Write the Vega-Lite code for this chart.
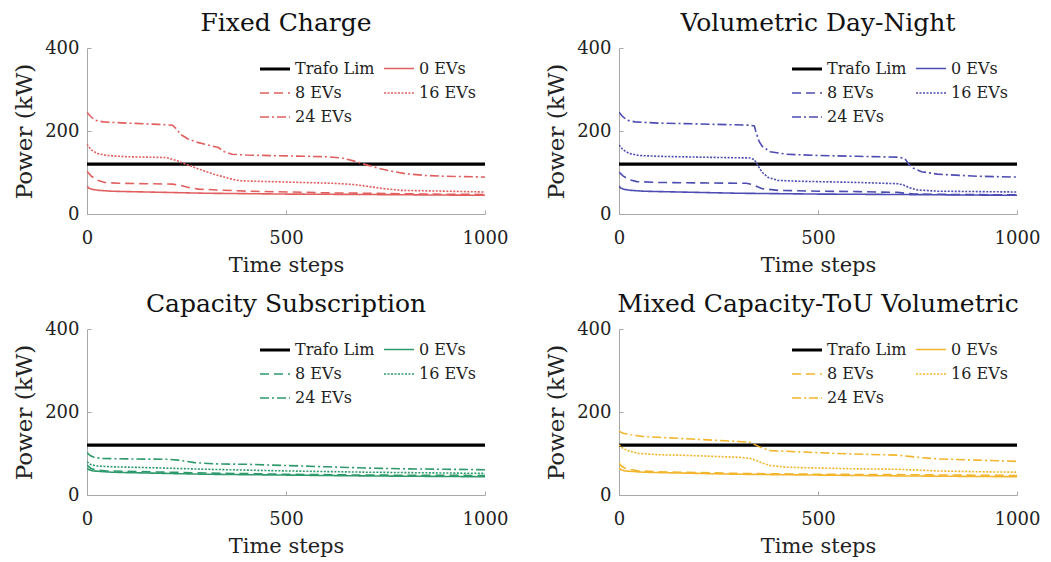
{
  "$schema": "https://vega.github.io/schema/vega-lite/v6.json",
  "padding": {"left": 13, "top": 11, "right": 5, "bottom": 5},
  "background": "white",
  "spacing": {"row": 17, "column": 37},
  "config": {
    "font": "DejaVu Serif",
    "view": {"stroke": null},
    "axis": {
      "grid": false,
      "domainColor": "#a8a8a8",
      "tickColor": "#a8a8a8",
      "tickSize": -4,
      "labelFont": "DejaVu Serif",
      "labelFontSize": 18,
      "labelColor": "#222222",
      "labelFlush": false,
      "format": "d",
      "titleFont": "DejaVu Serif",
      "titleFontSize": 21,
      "titleFontWeight": "normal",
      "titleColor": "#222222"
    },
    "axisX": {"labelPadding": 19, "titlePadding": 7},
    "axisY": {"labelPadding": 12, "titlePadding": 8, "titleFontSize": 23},
    "title": {"font": "DejaVu Serif", "fontSize": 25, "fontWeight": "normal", "color": "#111111", "anchor": "middle", "frame": "group", "offset": 3},
    "legend": {
      "orient": "none",
      "direction": "horizontal",
      "legendX": 171,
      "legendY": 4,
      "columns": 2,
      "symbolType": "stroke",
      "symbolSize": 900,
      "labelFont": "DejaVu Serif",
      "labelFontSize": 16,
      "labelColor": "#222222",
      "labelOffset": 3,
      "columnPadding": 5,
      "rowPadding": -8,
      "padding": 0
    }
  },
  "datasets": {
    "fc": [
      {"series": "Trafo Lim", "t": 0, "p": 120}, {"series": "Trafo Lim", "t": 1000, "p": 120},
      {"series": "0 EVs", "t": 0, "p": 67}, {"series": "0 EVs", "t": 5, "p": 62}, {"series": "0 EVs", "t": 15, "p": 59}, {"series": "0 EVs", "t": 30, "p": 57}, {"series": "0 EVs", "t": 60, "p": 55}, {"series": "0 EVs", "t": 100, "p": 54}, {"series": "0 EVs", "t": 200, "p": 52}, {"series": "0 EVs", "t": 300, "p": 50}, {"series": "0 EVs", "t": 400, "p": 49}, {"series": "0 EVs", "t": 500, "p": 48}, {"series": "0 EVs", "t": 700, "p": 47}, {"series": "0 EVs", "t": 850, "p": 46}, {"series": "0 EVs", "t": 1000, "p": 45},
      {"series": "8 EVs", "t": 0, "p": 103}, {"series": "8 EVs", "t": 10, "p": 92}, {"series": "8 EVs", "t": 25, "p": 82}, {"series": "8 EVs", "t": 45, "p": 76}, {"series": "8 EVs", "t": 80, "p": 74}, {"series": "8 EVs", "t": 150, "p": 73}, {"series": "8 EVs", "t": 215, "p": 72}, {"series": "8 EVs", "t": 235, "p": 69}, {"series": "8 EVs", "t": 255, "p": 64}, {"series": "8 EVs", "t": 280, "p": 60}, {"series": "8 EVs", "t": 325, "p": 58}, {"series": "8 EVs", "t": 400, "p": 55}, {"series": "8 EVs", "t": 510, "p": 53}, {"series": "8 EVs", "t": 600, "p": 51}, {"series": "8 EVs", "t": 700, "p": 50}, {"series": "8 EVs", "t": 850, "p": 48}, {"series": "8 EVs", "t": 1000, "p": 47},
      {"series": "16 EVs", "t": 0, "p": 168}, {"series": "16 EVs", "t": 10, "p": 155}, {"series": "16 EVs", "t": 25, "p": 146}, {"series": "16 EVs", "t": 50, "p": 141}, {"series": "16 EVs", "t": 100, "p": 138}, {"series": "16 EVs", "t": 200, "p": 136}, {"series": "16 EVs", "t": 230, "p": 127}, {"series": "16 EVs", "t": 251, "p": 119}, {"series": "16 EVs", "t": 285, "p": 107}, {"series": "16 EVs", "t": 318, "p": 96}, {"series": "16 EVs", "t": 368, "p": 83}, {"series": "16 EVs", "t": 385, "p": 80}, {"series": "16 EVs", "t": 500, "p": 77}, {"series": "16 EVs", "t": 620, "p": 74}, {"series": "16 EVs", "t": 670, "p": 71}, {"series": "16 EVs", "t": 703, "p": 67}, {"series": "16 EVs", "t": 745, "p": 61}, {"series": "16 EVs", "t": 790, "p": 57}, {"series": "16 EVs", "t": 900, "p": 55}, {"series": "16 EVs", "t": 1000, "p": 53},
      {"series": "24 EVs", "t": 0, "p": 245}, {"series": "24 EVs", "t": 8, "p": 236}, {"series": "24 EVs", "t": 20, "p": 226}, {"series": "24 EVs", "t": 40, "p": 222}, {"series": "24 EVs", "t": 100, "p": 219}, {"series": "24 EVs", "t": 180, "p": 216}, {"series": "24 EVs", "t": 215, "p": 214}, {"series": "24 EVs", "t": 225, "p": 205}, {"series": "24 EVs", "t": 235, "p": 192}, {"series": "24 EVs", "t": 255, "p": 180}, {"series": "24 EVs", "t": 280, "p": 172}, {"series": "24 EVs", "t": 310, "p": 165}, {"series": "24 EVs", "t": 330, "p": 160}, {"series": "24 EVs", "t": 345, "p": 150}, {"series": "24 EVs", "t": 365, "p": 144}, {"series": "24 EVs", "t": 400, "p": 142}, {"series": "24 EVs", "t": 500, "p": 140}, {"series": "24 EVs", "t": 600, "p": 138}, {"series": "24 EVs", "t": 640, "p": 135}, {"series": "24 EVs", "t": 670, "p": 128}, {"series": "24 EVs", "t": 700, "p": 119}, {"series": "24 EVs", "t": 730, "p": 111}, {"series": "24 EVs", "t": 760, "p": 104}, {"series": "24 EVs", "t": 800, "p": 97}, {"series": "24 EVs", "t": 850, "p": 93}, {"series": "24 EVs", "t": 900, "p": 91}, {"series": "24 EVs", "t": 1000, "p": 89}
    ],
    "vdn": [
      {"series": "Trafo Lim", "t": 0, "p": 120}, {"series": "Trafo Lim", "t": 1000, "p": 120},
      {"series": "0 EVs", "t": 0, "p": 67}, {"series": "0 EVs", "t": 5, "p": 62}, {"series": "0 EVs", "t": 15, "p": 59}, {"series": "0 EVs", "t": 30, "p": 57}, {"series": "0 EVs", "t": 60, "p": 55}, {"series": "0 EVs", "t": 100, "p": 54}, {"series": "0 EVs", "t": 200, "p": 52}, {"series": "0 EVs", "t": 300, "p": 50}, {"series": "0 EVs", "t": 400, "p": 49}, {"series": "0 EVs", "t": 500, "p": 48}, {"series": "0 EVs", "t": 700, "p": 47}, {"series": "0 EVs", "t": 850, "p": 46}, {"series": "0 EVs", "t": 1000, "p": 45},
      {"series": "8 EVs", "t": 0, "p": 101}, {"series": "8 EVs", "t": 10, "p": 92}, {"series": "8 EVs", "t": 25, "p": 83}, {"series": "8 EVs", "t": 45, "p": 78}, {"series": "8 EVs", "t": 100, "p": 76}, {"series": "8 EVs", "t": 200, "p": 75}, {"series": "8 EVs", "t": 320, "p": 74}, {"series": "8 EVs", "t": 335, "p": 71}, {"series": "8 EVs", "t": 345, "p": 67}, {"series": "8 EVs", "t": 360, "p": 61}, {"series": "8 EVs", "t": 400, "p": 57}, {"series": "8 EVs", "t": 500, "p": 55}, {"series": "8 EVs", "t": 600, "p": 54}, {"series": "8 EVs", "t": 700, "p": 52}, {"series": "8 EVs", "t": 720, "p": 50}, {"series": "8 EVs", "t": 740, "p": 48}, {"series": "8 EVs", "t": 850, "p": 47}, {"series": "8 EVs", "t": 1000, "p": 46},
      {"series": "16 EVs", "t": 0, "p": 166}, {"series": "16 EVs", "t": 10, "p": 155}, {"series": "16 EVs", "t": 25, "p": 146}, {"series": "16 EVs", "t": 50, "p": 141}, {"series": "16 EVs", "t": 100, "p": 139}, {"series": "16 EVs", "t": 200, "p": 137}, {"series": "16 EVs", "t": 330, "p": 135}, {"series": "16 EVs", "t": 340, "p": 131}, {"series": "16 EVs", "t": 350, "p": 115}, {"series": "16 EVs", "t": 360, "p": 100}, {"series": "16 EVs", "t": 375, "p": 88}, {"series": "16 EVs", "t": 400, "p": 81}, {"series": "16 EVs", "t": 450, "p": 79}, {"series": "16 EVs", "t": 500, "p": 78}, {"series": "16 EVs", "t": 600, "p": 76}, {"series": "16 EVs", "t": 700, "p": 73}, {"series": "16 EVs", "t": 715, "p": 70}, {"series": "16 EVs", "t": 730, "p": 63}, {"series": "16 EVs", "t": 750, "p": 58}, {"series": "16 EVs", "t": 800, "p": 55}, {"series": "16 EVs", "t": 900, "p": 54}, {"series": "16 EVs", "t": 1000, "p": 53},
      {"series": "24 EVs", "t": 0, "p": 245}, {"series": "24 EVs", "t": 8, "p": 236}, {"series": "24 EVs", "t": 20, "p": 226}, {"series": "24 EVs", "t": 40, "p": 222}, {"series": "24 EVs", "t": 100, "p": 219}, {"series": "24 EVs", "t": 200, "p": 217}, {"series": "24 EVs", "t": 330, "p": 214}, {"series": "24 EVs", "t": 340, "p": 212}, {"series": "24 EVs", "t": 345, "p": 195}, {"series": "24 EVs", "t": 352, "p": 175}, {"series": "24 EVs", "t": 360, "p": 163}, {"series": "24 EVs", "t": 380, "p": 150}, {"series": "24 EVs", "t": 420, "p": 144}, {"series": "24 EVs", "t": 500, "p": 141}, {"series": "24 EVs", "t": 600, "p": 139}, {"series": "24 EVs", "t": 700, "p": 137}, {"series": "24 EVs", "t": 718, "p": 134}, {"series": "24 EVs", "t": 728, "p": 120}, {"series": "24 EVs", "t": 740, "p": 110}, {"series": "24 EVs", "t": 760, "p": 102}, {"series": "24 EVs", "t": 800, "p": 96}, {"series": "24 EVs", "t": 900, "p": 91}, {"series": "24 EVs", "t": 1000, "p": 89}
    ],
    "cs": [
      {"series": "Trafo Lim", "t": 0, "p": 120}, {"series": "Trafo Lim", "t": 1000, "p": 120},
      {"series": "0 EVs", "t": 0, "p": 64}, {"series": "0 EVs", "t": 5, "p": 61}, {"series": "0 EVs", "t": 15, "p": 58}, {"series": "0 EVs", "t": 30, "p": 57}, {"series": "0 EVs", "t": 60, "p": 55}, {"series": "0 EVs", "t": 100, "p": 54}, {"series": "0 EVs", "t": 200, "p": 52}, {"series": "0 EVs", "t": 300, "p": 50}, {"series": "0 EVs", "t": 500, "p": 48}, {"series": "0 EVs", "t": 700, "p": 46}, {"series": "0 EVs", "t": 1000, "p": 44},
      {"series": "8 EVs", "t": 0, "p": 72}, {"series": "8 EVs", "t": 10, "p": 64}, {"series": "8 EVs", "t": 25, "p": 60}, {"series": "8 EVs", "t": 50, "p": 58}, {"series": "8 EVs", "t": 100, "p": 57}, {"series": "8 EVs", "t": 200, "p": 55}, {"series": "8 EVs", "t": 300, "p": 53}, {"series": "8 EVs", "t": 500, "p": 50}, {"series": "8 EVs", "t": 700, "p": 48}, {"series": "8 EVs", "t": 1000, "p": 47},
      {"series": "16 EVs", "t": 0, "p": 80}, {"series": "16 EVs", "t": 10, "p": 73}, {"series": "16 EVs", "t": 25, "p": 70}, {"series": "16 EVs", "t": 60, "p": 68}, {"series": "16 EVs", "t": 150, "p": 66}, {"series": "16 EVs", "t": 300, "p": 62}, {"series": "16 EVs", "t": 500, "p": 58}, {"series": "16 EVs", "t": 700, "p": 55}, {"series": "16 EVs", "t": 1000, "p": 52},
      {"series": "24 EVs", "t": 0, "p": 102}, {"series": "24 EVs", "t": 8, "p": 95}, {"series": "24 EVs", "t": 20, "p": 90}, {"series": "24 EVs", "t": 40, "p": 88}, {"series": "24 EVs", "t": 100, "p": 87}, {"series": "24 EVs", "t": 200, "p": 86}, {"series": "24 EVs", "t": 230, "p": 84}, {"series": "24 EVs", "t": 270, "p": 78}, {"series": "24 EVs", "t": 320, "p": 75}, {"series": "24 EVs", "t": 400, "p": 74}, {"series": "24 EVs", "t": 500, "p": 71}, {"series": "24 EVs", "t": 600, "p": 68}, {"series": "24 EVs", "t": 700, "p": 65}, {"series": "24 EVs", "t": 800, "p": 63}, {"series": "24 EVs", "t": 900, "p": 62}, {"series": "24 EVs", "t": 1000, "p": 61}
    ],
    "mix": [
      {"series": "Trafo Lim", "t": 0, "p": 120}, {"series": "Trafo Lim", "t": 1000, "p": 120},
      {"series": "0 EVs", "t": 0, "p": 65}, {"series": "0 EVs", "t": 5, "p": 61}, {"series": "0 EVs", "t": 15, "p": 58}, {"series": "0 EVs", "t": 30, "p": 57}, {"series": "0 EVs", "t": 60, "p": 55}, {"series": "0 EVs", "t": 100, "p": 54}, {"series": "0 EVs", "t": 200, "p": 52}, {"series": "0 EVs", "t": 300, "p": 50}, {"series": "0 EVs", "t": 500, "p": 48}, {"series": "0 EVs", "t": 700, "p": 46}, {"series": "0 EVs", "t": 1000, "p": 44},
      {"series": "8 EVs", "t": 0, "p": 77}, {"series": "8 EVs", "t": 8, "p": 68}, {"series": "8 EVs", "t": 20, "p": 63}, {"series": "8 EVs", "t": 50, "p": 58}, {"series": "8 EVs", "t": 100, "p": 56}, {"series": "8 EVs", "t": 200, "p": 54}, {"series": "8 EVs", "t": 300, "p": 52}, {"series": "8 EVs", "t": 500, "p": 50}, {"series": "8 EVs", "t": 700, "p": 49}, {"series": "8 EVs", "t": 1000, "p": 47},
      {"series": "16 EVs", "t": 0, "p": 121}, {"series": "16 EVs", "t": 10, "p": 112}, {"series": "16 EVs", "t": 25, "p": 106}, {"series": "16 EVs", "t": 50, "p": 100}, {"series": "16 EVs", "t": 100, "p": 97}, {"series": "16 EVs", "t": 150, "p": 96}, {"series": "16 EVs", "t": 300, "p": 91}, {"series": "16 EVs", "t": 330, "p": 88}, {"series": "16 EVs", "t": 345, "p": 83}, {"series": "16 EVs", "t": 360, "p": 77}, {"series": "16 EVs", "t": 380, "p": 71}, {"series": "16 EVs", "t": 420, "p": 67}, {"series": "16 EVs", "t": 500, "p": 65}, {"series": "16 EVs", "t": 600, "p": 63}, {"series": "16 EVs", "t": 700, "p": 62}, {"series": "16 EVs", "t": 750, "p": 60}, {"series": "16 EVs", "t": 800, "p": 58}, {"series": "16 EVs", "t": 900, "p": 56}, {"series": "16 EVs", "t": 1000, "p": 55},
      {"series": "24 EVs", "t": 0, "p": 154}, {"series": "24 EVs", "t": 10, "p": 149}, {"series": "24 EVs", "t": 30, "p": 145}, {"series": "24 EVs", "t": 60, "p": 141}, {"series": "24 EVs", "t": 100, "p": 139}, {"series": "24 EVs", "t": 200, "p": 134}, {"series": "24 EVs", "t": 300, "p": 129}, {"series": "24 EVs", "t": 330, "p": 127}, {"series": "24 EVs", "t": 340, "p": 122}, {"series": "24 EVs", "t": 360, "p": 113}, {"series": "24 EVs", "t": 380, "p": 107}, {"series": "24 EVs", "t": 450, "p": 104}, {"series": "24 EVs", "t": 550, "p": 100}, {"series": "24 EVs", "t": 700, "p": 96}, {"series": "24 EVs", "t": 730, "p": 93}, {"series": "24 EVs", "t": 760, "p": 90}, {"series": "24 EVs", "t": 800, "p": 87}, {"series": "24 EVs", "t": 900, "p": 84}, {"series": "24 EVs", "t": 1000, "p": 81}
    ]
  },
  "columns": 2,
  "resolve": {"scale": {"color": "independent", "strokeDash": "independent", "strokeWidth": "independent"}},
  "concat": [
    {
      "title": "Fixed Charge",
      "width": 398, "height": 166,
      "data": {"name": "fc"},
      "mark": {"type": "line", "clip": true},
      "encoding": {
        "x": {"field": "t", "type": "quantitative", "scale": {"domain": [0, 1000], "nice": false}, "axis": {"values": [0, 500, 1000], "title": "Time steps"}},
        "y": {"field": "p", "type": "quantitative", "scale": {"domain": [0, 400], "nice": false}, "axis": {"values": [0, 200, 400], "title": "Power (kW)"}},
        "color": {"field": "series", "type": "nominal", "scale": {"domain": ["Trafo Lim", "0 EVs", "8 EVs", "16 EVs", "24 EVs"], "range": ["#000000", "#e15f5f", "#e15f5f", "#e15f5f", "#e15f5f"]}, "legend": {"title": null}},
        "strokeDash": {"field": "series", "type": "nominal", "scale": {"domain": ["Trafo Lim", "0 EVs", "8 EVs", "16 EVs", "24 EVs"], "range": [[1, 0], [1, 0], [9, 5], [2, 1.5], [9, 3, 2, 3]]}, "legend": {"title": null}},
        "strokeWidth": {"field": "series", "type": "nominal", "scale": {"type": "ordinal", "domain": ["Trafo Lim", "0 EVs", "8 EVs", "16 EVs", "24 EVs"], "range": [3.2, 1.6, 1.6, 1.6, 1.6]}, "legend": {"title": null}}
      }
    },
    {
      "title": "Volumetric Day-Night",
      "width": 398, "height": 166,
      "data": {"name": "vdn"},
      "mark": {"type": "line", "clip": true},
      "encoding": {
        "x": {"field": "t", "type": "quantitative", "scale": {"domain": [0, 1000], "nice": false}, "axis": {"values": [0, 500, 1000], "title": "Time steps"}},
        "y": {"field": "p", "type": "quantitative", "scale": {"domain": [0, 400], "nice": false}, "axis": {"values": [0, 200, 400], "title": "Power (kW)"}},
        "color": {"field": "series", "type": "nominal", "scale": {"domain": ["Trafo Lim", "0 EVs", "8 EVs", "16 EVs", "24 EVs"], "range": ["#000000", "#4c4cb2", "#4c4cb2", "#4c4cb2", "#4c4cb2"]}, "legend": {"title": null}},
        "strokeDash": {"field": "series", "type": "nominal", "scale": {"domain": ["Trafo Lim", "0 EVs", "8 EVs", "16 EVs", "24 EVs"], "range": [[1, 0], [1, 0], [9, 5], [2, 1.5], [9, 3, 2, 3]]}, "legend": {"title": null}},
        "strokeWidth": {"field": "series", "type": "nominal", "scale": {"type": "ordinal", "domain": ["Trafo Lim", "0 EVs", "8 EVs", "16 EVs", "24 EVs"], "range": [3.2, 1.6, 1.6, 1.6, 1.6]}, "legend": {"title": null}}
      }
    },
    {
      "title": "Capacity Subscription",
      "width": 398, "height": 166,
      "data": {"name": "cs"},
      "mark": {"type": "line", "clip": true},
      "encoding": {
        "x": {"field": "t", "type": "quantitative", "scale": {"domain": [0, 1000], "nice": false}, "axis": {"values": [0, 500, 1000], "title": "Time steps"}},
        "y": {"field": "p", "type": "quantitative", "scale": {"domain": [0, 400], "nice": false}, "axis": {"values": [0, 200, 400], "title": "Power (kW)"}},
        "color": {"field": "series", "type": "nominal", "scale": {"domain": ["Trafo Lim", "0 EVs", "8 EVs", "16 EVs", "24 EVs"], "range": ["#000000", "#2e9a6b", "#2e9a6b", "#2e9a6b", "#2e9a6b"]}, "legend": {"title": null}},
        "strokeDash": {"field": "series", "type": "nominal", "scale": {"domain": ["Trafo Lim", "0 EVs", "8 EVs", "16 EVs", "24 EVs"], "range": [[1, 0], [1, 0], [9, 5], [2, 1.5], [9, 3, 2, 3]]}, "legend": {"title": null}},
        "strokeWidth": {"field": "series", "type": "nominal", "scale": {"type": "ordinal", "domain": ["Trafo Lim", "0 EVs", "8 EVs", "16 EVs", "24 EVs"], "range": [3.2, 1.6, 1.6, 1.6, 1.6]}, "legend": {"title": null}}
      }
    },
    {
      "title": "Mixed Capacity-ToU Volumetric",
      "width": 398, "height": 166,
      "data": {"name": "mix"},
      "mark": {"type": "line", "clip": true},
      "encoding": {
        "x": {"field": "t", "type": "quantitative", "scale": {"domain": [0, 1000], "nice": false}, "axis": {"values": [0, 500, 1000], "title": "Time steps"}},
        "y": {"field": "p", "type": "quantitative", "scale": {"domain": [0, 400], "nice": false}, "axis": {"values": [0, 200, 400], "title": "Power (kW)"}},
        "color": {"field": "series", "type": "nominal", "scale": {"domain": ["Trafo Lim", "0 EVs", "8 EVs", "16 EVs", "24 EVs"], "range": ["#000000", "#f2b52c", "#f2b52c", "#f2b52c", "#f2b52c"]}, "legend": {"title": null}},
        "strokeDash": {"field": "series", "type": "nominal", "scale": {"domain": ["Trafo Lim", "0 EVs", "8 EVs", "16 EVs", "24 EVs"], "range": [[1, 0], [1, 0], [9, 5], [2, 1.5], [9, 3, 2, 3]]}, "legend": {"title": null}},
        "strokeWidth": {"field": "series", "type": "nominal", "scale": {"type": "ordinal", "domain": ["Trafo Lim", "0 EVs", "8 EVs", "16 EVs", "24 EVs"], "range": [3.2, 1.6, 1.6, 1.6, 1.6]}, "legend": {"title": null}}
      }
    }
  ]
}
